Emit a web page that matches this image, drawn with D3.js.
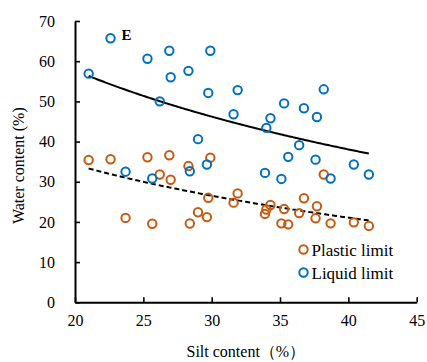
<!DOCTYPE html>
<html>
<head>
<meta charset="utf-8">
<script src="https://cdn.jsdelivr.net/npm/d3@7/dist/d3.min.js"></script>
<style>
  html, body { margin: 0; padding: 0; background: #fff; }
  svg { display: block; font-family: "Liberation Serif", "Times New Roman", serif; }
</style>
</head>
<body>
<svg id="chart" width="427" height="362"></svg>
<script>
// Silt content (%) of each sample
const silt = [21.0, 22.6, 23.7, 25.3, 25.65, 26.2, 26.9, 27.0, 28.3, 28.4,
              29.0, 29.65, 29.75, 29.9, 31.6, 31.9, 33.9, 34.0, 34.3, 35.1,
              35.3, 35.6, 36.4, 36.75, 37.6, 37.7, 38.2, 38.7, 40.4, 41.5];
// Liquid limit (%)
const liquidLimit = [56.9, 65.7, 32.5, 60.6, 30.8, 50.0, 62.6, 56.0, 57.6, 32.6,
                     40.6, 34.3, 52.1, 62.6, 46.8, 52.8, 32.2, 43.4, 45.8, 30.7,
                     49.5, 36.2, 39.1, 48.3, 35.5, 46.1, 53.0, 30.8, 34.3, 31.8];
// Plastic limit (%)
const plasticLimit = [35.4, 35.6, 21.0, 36.1, 19.55, 31.8, 36.6, 30.5, 33.9, 19.6,
                      22.4, 21.2, 26.0, 36.0, 24.8, 27.1, 22.0, 23.1, 24.2, 19.65,
                      23.2, 19.4, 22.2, 25.9, 20.9, 23.9, 31.8, 19.65, 19.9, 19.0];
const xTicks = [20, 25, 30, 35, 40, 45];
const yTicks = [0, 10, 20, 30, 40, 50, 60, 70];
const seriesNames = ["Plastic limit", "Liquid limit"];

const ORANGE = "#C55A11", BLUE = "#0070C0";

const svg = d3.select("#chart");
const x = d3.scaleLinear().domain([20, 45]).range([75, 416.7]);
const y = d3.scaleLinear().domain([0, 70]).range([302.3, 21]);

// Logarithmic least-squares trend: y = a + b ln(x)
function logFit(xs, ys) {
  const lx = xs.map(Math.log);
  const mx = d3.mean(lx), my = d3.mean(ys);
  let sxy = 0, sxx = 0;
  lx.forEach((v, i) => { sxy += (v - mx) * (ys[i] - my); sxx += (v - mx) * (v - mx); });
  const b = sxy / sxx, a = my - b * mx;
  return t => a + b * Math.log(t);
}

// Axes (ticks point inward)
const xAxis = svg.append("g").attr("transform", `translate(0,${y(0)})`)
  .call(d3.axisBottom(x).tickValues(xTicks).tickSizeInner(-5).tickSizeOuter(0).tickPadding(12));
const yAxis = svg.append("g").attr("transform", `translate(${x(20)},0)`)
  .call(d3.axisLeft(y).tickValues(yTicks).tickSizeInner(-5).tickSizeOuter(0).tickPadding(20));
[xAxis, yAxis].forEach(g => {
  g.select(".domain").attr("stroke", "#000").attr("stroke-width", 2);
  g.selectAll(".tick line").attr("stroke", "#000").attr("stroke-width", 1.6);
  g.selectAll(".tick text").attr("fill", "#000").style("font-size", "16px")
    .style("font-family", '"Liberation Serif", "Times New Roman", serif');
});

// Trend lines
const xr = d3.extent(silt);
const xs = d3.range(xr[0], xr[1] + 0.001, 0.1);
const llFit = logFit(silt, liquidLimit), plFit = logFit(silt, plasticLimit);
const line = f => d3.line().x(d => x(d)).y(d => y(f(d)));
svg.append("path").datum(xs).attr("d", line(llFit))
  .attr("fill", "none").attr("stroke", "#000").attr("stroke-width", 2);
svg.append("path").datum(xs).attr("d", line(plFit))
  .attr("fill", "none").attr("stroke", "#000").attr("stroke-width", 2)
  .attr("stroke-dasharray", "5,3");

// Scatter markers
function markers(vals, color) {
  svg.append("g").selectAll("circle").data(silt).join("circle")
    .attr("cx", d => x(d)).attr("cy", (d, i) => y(vals[i])).attr("r", 4.2)
    .attr("fill", "none").attr("stroke", color).attr("stroke-width", 2);
}
markers(plasticLimit, ORANGE);
markers(liquidLimit, BLUE);

// Label for sample E
svg.append("text").attr("x", x(silt[1]) + 11).attr("y", y(liquidLimit[1]) + 2)
  .style("font-size", "15px").style("font-weight", "bold").text("E");

// Legend
const legend = svg.append("g");
[[ORANGE, 0], [BLUE, 1]].forEach(([c, i]) => {
  legend.append("circle").attr("cx", 303.5).attr("cy", 249.5 + i * 23).attr("r", 4.2)
    .attr("fill", "none").attr("stroke", c).attr("stroke-width", 2);
  legend.append("text").attr("x", 311.5).attr("y", 255.5 + i * 23)
    .style("font-size", "17px").text(seriesNames[i]);
});

// Axis titles
svg.append("text").attr("x", x(32.5)).attr("y", 357).attr("text-anchor", "middle")
  .style("font-size", "16px").text("Silt content（%）");
svg.append("text").attr("transform", `translate(24,${y(34)}) rotate(-90)`)
  .attr("text-anchor", "middle").style("font-size", "16px").text("Water content (%)");
</script>
</body>
</html>
